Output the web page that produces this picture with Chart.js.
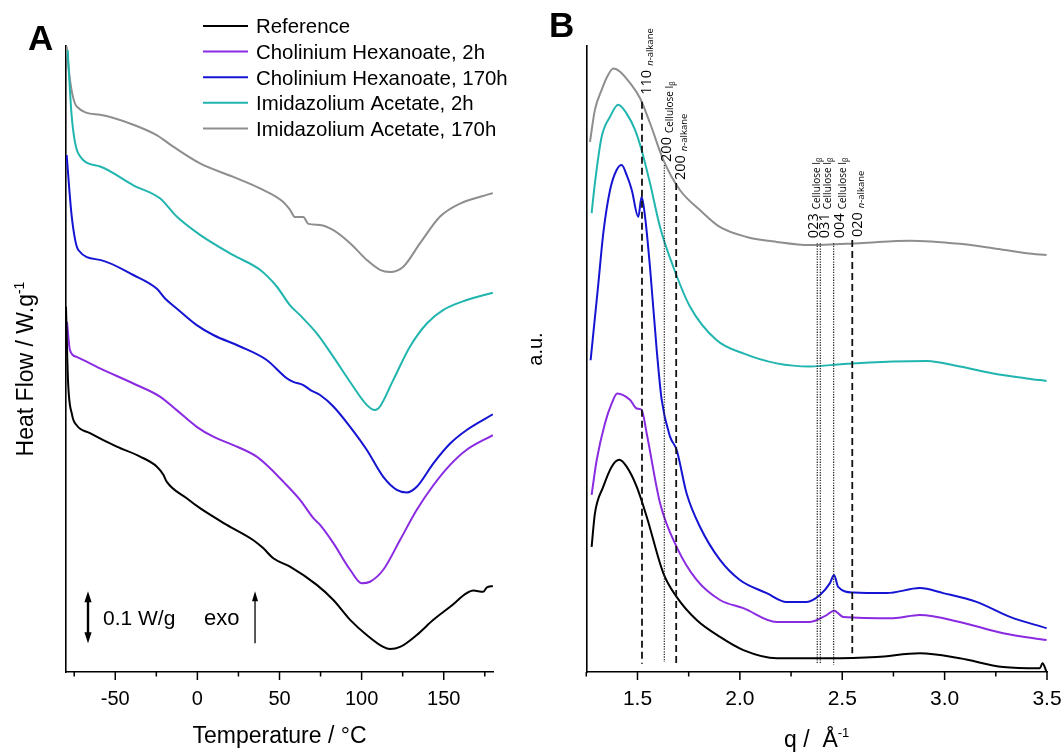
<!DOCTYPE html>
<html><head><meta charset="utf-8">
<script src="https://cdn.jsdelivr.net/npm/chart.js@4.4.1/dist/chart.umd.min.js"></script>
<style>
html,body{margin:0;padding:0;background:#fff;}
#wrap{position:relative;width:1061px;height:752px;overflow:hidden;background:#fff;}
canvas{position:absolute;top:0;}
#cA{left:0;width:530px;height:752px;}
#cB{left:530px;width:531px;height:752px;}
</style></head><body>
<div id="wrap"><canvas id="cA" width="530" height="752"></canvas><canvas id="cB" width="531" height="752"></canvas></div>
<script>
const FONT = '"Liberation Sans", Arial, Helvetica, sans-serif';
const LABEL_FONT = '"Open Sans", "Liberation Sans", Arial, sans-serif';

const seriesNames = ['Reference', 'Cholinium Hexanoate, 2h', 'Cholinium Hexanoate, 170h', 'Imidazolium Acetate, 2h', 'Imidazolium Acetate, 170h'];
const seriesColors = ['#000000', '#8a2be2', '#1414d2', '#20b5ae', '#8e8e8e'];

// ---------- Panel A: DSC (Temperature / °C vs Heat Flow / W.g-1, offset) ----------
const dscRefT  = [-80, -78.8, -76.3, -73.5, -65.4, -49.1, -34.9, -24.8, -20.7, -18.7, -6.5, 1.6, 17.9, 33.9, 40.2, 46.2, 56.4, 72.7, 82.8, 93.0, 103.1, 113.2, 117.3, 123.4, 133.6, 143.7, 153.9, 164.0, 168.0, 174.1, 176.2, 179.9];
const dscRefHF = [0.700, 0.560, 0.493, 0.473, 0.458, 0.432, 0.413, 0.394, 0.378, 0.365, 0.333, 0.314, 0.282, 0.253, 0.237, 0.218, 0.202, 0.167, 0.138, 0.100, 0.071, 0.048, 0.044, 0.048, 0.071, 0.100, 0.125, 0.151, 0.156, 0.154, 0.162, 0.165];

const dscCh2T  = [-79.4, -77.6, -73.5, -59.3, -39.0, -22.8, -12.6, -0.4, 9.7, 21.9, 36.1, 42.2, 52.3, 62.5, 70.6, 74.7, 82.8, 93.0, 100.1, 105.1, 113.2, 123.4, 133.6, 143.7, 153.9, 164.0, 179.9];
const dscCh2HF = [0.671, 0.617, 0.604, 0.582, 0.553, 0.528, 0.502, 0.470, 0.451, 0.435, 0.413, 0.397, 0.365, 0.330, 0.295, 0.282, 0.247, 0.196, 0.170, 0.173, 0.196, 0.253, 0.311, 0.358, 0.397, 0.426, 0.454];

const dscCh170T  = [-79.6, -76.5, -72.5, -59.3, -39.0, -24.8, -19.7, -12.6, -0.4, 9.7, 26.0, 42.2, 54.4, 58.4, 64.5, 68.6, 74.7, 82.8, 93.0, 103.1, 113.2, 121.4, 127.5, 133.6, 143.7, 153.9, 164.0, 179.9];
const dscCh170HF = [0.991, 0.873, 0.809, 0.790, 0.761, 0.735, 0.716, 0.697, 0.665, 0.646, 0.624, 0.598, 0.563, 0.556, 0.550, 0.541, 0.531, 0.509, 0.470, 0.426, 0.374, 0.349, 0.344, 0.355, 0.400, 0.438, 0.464, 0.494];

const dscIm2T  = [-79, -76.5, -72.5, -59.3, -39.0, -22.8, -12.6, 1.6, 21.9, 38.1, 48.3, 56.4, 62.5, 72.7, 82.8, 93.0, 103.1, 108.2, 111.2, 119.3, 129.5, 139.7, 149.8, 164.0, 179.9];
const dscIm2HF = [1.192, 1.064, 0.994, 0.969, 0.933, 0.908, 0.873, 0.838, 0.799, 0.771, 0.739, 0.703, 0.684, 0.649, 0.604, 0.556, 0.512, 0.502, 0.509, 0.560, 0.624, 0.668, 0.694, 0.713, 0.727];

const dscIm170T  = [-79.6, -77.6, -73.5, -59.3, -39.0, -24.8, -14.7, 1.6, 21.9, 38.1, 52.3, 56.4, 59.5, 64.5, 67.6, 74.7, 82.8, 93.0, 103.1, 111.2, 117.3, 125.4, 135.6, 147.8, 160.0, 179.9];
const dscIm170HF = [1.199, 1.135, 1.084, 1.068, 1.049, 1.029, 1.007, 0.975, 0.949, 0.927, 0.901, 0.886, 0.872, 0.872, 0.859, 0.857, 0.847, 0.822, 0.790, 0.771, 0.767, 0.777, 0.822, 0.873, 0.898, 0.918];

const tickValsA   = [-50, 0, 50, 100, 150];
const tickLabelsA = ['-50', '0', '50', '100', '150'];
const minorTicksA = [-75, -25, 25, 75, 125, 175];
const scaleBarT = -66.6, exoArrowT = 35.1;          // °C
const scaleBarFrom = 0.055, scaleBarTo = 0.155;     // W/g (0.1 W/g)

// ---------- Panel B: WAXS (q / Å-1 vs a.u.) ----------
const waxsRefQ = [1.276, 1.292, 1.333, 1.374, 1.411, 1.447, 1.496, 1.545, 1.626, 1.691, 1.789, 1.903, 2.017, 2.180, 2.424, 2.668, 2.879, 3.074, 3.286, 3.465, 3.478, 3.498];
const waxsRefI = [0.200, 0.253, 0.296, 0.328, 0.339, 0.328, 0.296, 0.248, 0.158, 0.120, 0.083, 0.056, 0.035, 0.022, 0.022, 0.024, 0.030, 0.022, 0.008, 0.006, 0.014, 0.000];

const waxsCh2Q = [1.276, 1.301, 1.341, 1.374, 1.401, 1.463, 1.496, 1.520, 1.545, 1.610, 1.691, 1.789, 1.903, 2.017, 2.180, 2.342, 2.424, 2.460, 2.505, 2.749, 2.879, 3.074, 3.286, 3.498];
const waxsCh2I = [0.283, 0.339, 0.397, 0.429, 0.445, 0.435, 0.421, 0.419, 0.381, 0.270, 0.200, 0.147, 0.115, 0.102, 0.080, 0.080, 0.091, 0.098, 0.088, 0.086, 0.091, 0.080, 0.062, 0.051];

const waxsCh170Q = [1.271, 1.309, 1.333, 1.366, 1.398, 1.423, 1.447, 1.472, 1.504, 1.520, 1.537, 1.561, 1.594, 1.618, 1.659, 1.691, 1.740, 1.805, 1.903, 2.000, 2.131, 2.228, 2.326, 2.391, 2.440, 2.460, 2.480, 2.554, 2.717, 2.879, 2.993, 3.156, 3.319, 3.498];
const waxsCh170I = [0.498, 0.621, 0.701, 0.770, 0.802, 0.810, 0.794, 0.770, 0.727, 0.759, 0.727, 0.647, 0.514, 0.435, 0.376, 0.355, 0.285, 0.232, 0.179, 0.147, 0.126, 0.112, 0.112, 0.123, 0.142, 0.155, 0.136, 0.127, 0.126, 0.134, 0.126, 0.112, 0.088, 0.070];

const waxsIm2Q = [1.276, 1.292, 1.325, 1.366, 1.406, 1.447, 1.488, 1.520, 1.561, 1.610, 1.675, 1.756, 1.887, 2.017, 2.180, 2.342, 2.505, 2.749, 2.912, 3.075, 3.237, 3.400, 3.498];
const waxsIm2I = [0.733, 0.781, 0.855, 0.887, 0.906, 0.892, 0.866, 0.834, 0.781, 0.711, 0.647, 0.584, 0.530, 0.509, 0.493, 0.488, 0.492, 0.496, 0.497, 0.488, 0.477, 0.469, 0.465];

const waxsIm170Q = [1.268, 1.292, 1.325, 1.357, 1.382, 1.415, 1.463, 1.512, 1.561, 1.626, 1.707, 1.805, 1.902, 2.033, 2.180, 2.342, 2.586, 2.830, 3.074, 3.237, 3.400, 3.498];
const waxsIm170I = [0.847, 0.898, 0.930, 0.954, 0.964, 0.959, 0.941, 0.917, 0.877, 0.818, 0.770, 0.738, 0.711, 0.695, 0.687, 0.682, 0.685, 0.689, 0.684, 0.677, 0.669, 0.666];

const tickValsB   = [1.5, 2.0, 2.5, 3.0, 3.5];
const tickLabelsB = ['1.5', '2.0', '2.5', '3.0', '3.5'];
const minorTicksB = [1.25, 1.75, 2.25, 2.75, 3.25];

// reflection markers
const refLineQ      = [1.522, 1.631, 1.689, 2.378, 2.393, 2.458, 2.549];
const refLineTop    = [0.911, 0.810, 0.781, 0.685, 0.685, 0.685, 0.690];
const refLineBottom = [0.013, 0.016, 0.014, 0.014, 0.014, 0.011, 0.030];
const refLineKind   = ['dash', 'dot', 'dash', 'dot', 'dot', 'dot', 'dash'];
const refLabelMain  = ['110', '200', '200', '023', '031', '004', '020'];
const refLabelSub   = ['n-alkane', 'Cellulose Iβ', 'n-alkane', 'Cellulose Iβ', 'Cellulose Iβ', 'Cellulose Iβ', 'n-alkane'];
// label layout (pixels): baseline offset from line, gap above line top
const refLabelDx  = [9, 6.5, 9, 0.6, 8.6, 10, 10];
const refLabelGap = [7, 3, 3, 5, 5, 5, 3];

// ---------- helpers ----------
const toXY = (xs, ys) => xs.map((v, i) => ({ x: v, y: ys[i] }));
function ds(i, xs, ys) {
  return { label: seriesNames[i], data: toXY(xs, ys), borderColor: seriesColors[i], borderWidth: 2,
           pointRadius: 0, fill: false, cubicInterpolationMode: 'monotone' };
}
function makeOptions(xmin, xmax, ymin, ymax, yWidth, padRight) {
  return {
    responsive: false, animation: false, events: [],
    layout: { padding: { top: 46, right: padRight, left: 0, bottom: 0 } },
    plugins: { legend: { display: false }, tooltip: { enabled: false } },
    scales: {
      x: { type: 'linear', min: xmin, max: xmax,
           ticks: { display: false }, grid: { display: false, drawTicks: false },
           border: { display: true, color: '#000', width: 1.6 },
           afterFit: s => { s.height = 80; s.paddingLeft = 0; s.paddingRight = 0; } },
      y: { type: 'linear', min: ymin, max: ymax,
           ticks: { display: false }, grid: { display: false, drawTicks: false },
           border: { display: true, color: '#000', width: 1.6 },
           afterFit: s => { s.width = yWidth; s.paddingTop = 0; s.paddingBottom = 0; } }
    }
  };
}
function drawTicks(ctx, chart, vals, labels, minors, fontSize) {
  const { chartArea: ca, scales: { x } } = chart;
  ctx.strokeStyle = '#000'; ctx.lineWidth = 1.5; ctx.setLineDash([]);
  ctx.beginPath();
  vals.forEach(v => { const p = x.getPixelForValue(v); ctx.moveTo(p, ca.bottom); ctx.lineTo(p, ca.bottom + 8); });
  minors.forEach(v => { const p = x.getPixelForValue(v); ctx.moveTo(p, ca.bottom); ctx.lineTo(p, ca.bottom + 4.5); });
  ctx.stroke();
  ctx.fillStyle = '#000'; ctx.font = fontSize + 'px ' + FONT; ctx.textAlign = 'center'; ctx.textBaseline = 'alphabetic';
  vals.forEach((v, i) => ctx.fillText(labels[i], x.getPixelForValue(v), 705));
}
function drawSupText(ctx, base, sup, size, supSize, rise, cx, baseline, rotated) {
  ctx.save();
  ctx.font = size + 'px ' + FONT;
  const wb = ctx.measureText(base).width;
  ctx.font = supSize + 'px ' + FONT;
  const ws = ctx.measureText(sup).width;
  const total = wb + ws;
  ctx.translate(rotated ? baseline : cx, rotated ? cx : baseline);
  if (rotated) ctx.rotate(-Math.PI / 2);
  ctx.fillStyle = '#000'; ctx.textAlign = 'left'; ctx.textBaseline = 'alphabetic';
  ctx.font = size + 'px ' + FONT;
  ctx.fillText(base, -total / 2, 0);
  ctx.font = supSize + 'px ' + FONT;
  ctx.fillText(sup, -total / 2 + wb, -rise);
  ctx.restore();
}

// ---------- Panel A plugin ----------
const panelAPlugin = {
  id: 'panelA',
  afterDraw(chart) {
    const { ctx, chartArea: ca, scales: { x, y } } = chart;
    ctx.save();
    drawTicks(ctx, chart, tickValsA, tickLabelsA, minorTicksA, 20);
    // axis titles
    ctx.font = '23px ' + FONT; ctx.textAlign = 'center'; ctx.fillStyle = '#000';
    ctx.fillText('Temperature / °C', (ca.left + ca.right) / 2, 743);
    drawSupText(ctx, 'Heat Flow / W.g', '-1', 23, 14, 9, 369, 33, true);
    // panel letter
    ctx.font = 'bold 35px ' + FONT; ctx.textAlign = 'left';
    ctx.fillText('A', 28, 50);
    // legend
    seriesNames.forEach((name, i) => {
      const ly = 26 + i * 25.6;
      ctx.strokeStyle = seriesColors[i]; ctx.lineWidth = 2;
      ctx.beginPath(); ctx.moveTo(203, ly); ctx.lineTo(248, ly); ctx.stroke();
      ctx.fillStyle = '#000'; ctx.font = '20.4px ' + FONT; ctx.textAlign = 'left';
      ctx.fillText(name, 256, ly + 7.3);
    });
    // 0.1 W/g scale bar (double arrow)
    const bx = x.getPixelForValue(scaleBarT);
    const yTop = y.getPixelForValue(scaleBarTo), yBot = y.getPixelForValue(scaleBarFrom);
    ctx.strokeStyle = '#000'; ctx.fillStyle = '#000'; ctx.lineWidth = 2.4;
    ctx.beginPath(); ctx.moveTo(bx, yTop + 8); ctx.lineTo(bx, yBot - 8); ctx.stroke();
    ctx.beginPath(); ctx.moveTo(bx, yTop); ctx.lineTo(bx - 3.6, yTop + 11); ctx.lineTo(bx + 3.6, yTop + 11); ctx.closePath(); ctx.fill();
    ctx.beginPath(); ctx.moveTo(bx, yBot); ctx.lineTo(bx - 3.6, yBot - 11); ctx.lineTo(bx + 3.6, yBot - 11); ctx.closePath(); ctx.fill();
    ctx.font = '21px ' + FONT; ctx.textAlign = 'left';
    ctx.fillText('0.1 W/g', 103, 625);
    ctx.font = '22px ' + FONT;
    ctx.fillText('exo', 204, 625);
    // exo arrow
    const ex = x.getPixelForValue(exoArrowT);
    ctx.lineWidth = 1.3;
    ctx.beginPath(); ctx.moveTo(ex, yBot); ctx.lineTo(ex, yTop + 8); ctx.stroke();
    ctx.beginPath(); ctx.moveTo(ex, yTop); ctx.lineTo(ex - 3, yTop + 10); ctx.lineTo(ex + 3, yTop + 10); ctx.closePath(); ctx.fill();
    ctx.restore();
  }
};

// ---------- Panel B plugin ----------
function drawRefLabel(ctx, px, yb, main, sub) {
  ctx.save();
  ctx.translate(px, yb);
  ctx.rotate(-Math.PI / 2);
  ctx.fillStyle = '#000'; ctx.textAlign = 'left'; ctx.textBaseline = 'alphabetic';
  ctx.font = '14.5px ' + LABEL_FONT;
  ctx.fillText(main, 0, 0);
  let u = ctx.measureText(main).width + 4;
  const v = 2;
  if (sub.startsWith('n-')) {
    ctx.font = 'italic 9.5px ' + LABEL_FONT;
    ctx.fillText('n', u, v); u += ctx.measureText('n').width;
    ctx.font = '9.5px ' + LABEL_FONT;
    ctx.fillText(sub.slice(1), u, v);
  } else {
    const head = sub.slice(0, -1), tail = sub.slice(-1);
    ctx.font = '10px ' + LABEL_FONT;
    ctx.fillText(head, u, v); u += ctx.measureText(head).width;
    ctx.font = '7px ' + LABEL_FONT;
    ctx.fillText(tail, u, v + 2);
  }
  ctx.restore();
}
const panelBPlugin = {
  id: 'panelB',
  afterDatasetsDraw(chart) {
    const { ctx, scales: { x, y } } = chart;
    ctx.save();
    refLineQ.forEach((q, i) => {
      const px = x.getPixelForValue(q);
      if (refLineKind[i] === 'dash') { ctx.setLineDash([7, 4]); ctx.lineWidth = 1.8; ctx.strokeStyle = '#111'; }
      else { ctx.setLineDash([1.3, 1.3]); ctx.lineWidth = 1.2; ctx.strokeStyle = '#222'; }
      ctx.beginPath(); ctx.moveTo(px, y.getPixelForValue(refLineTop[i])); ctx.lineTo(px, y.getPixelForValue(refLineBottom[i])); ctx.stroke();
    });
    ctx.setLineDash([]);
    refLineQ.forEach((q, i) => {
      const px = x.getPixelForValue(q) + refLabelDx[i];
      const yb = y.getPixelForValue(refLineTop[i]) - refLabelGap[i];
      drawRefLabel(ctx, px, yb, refLabelMain[i], refLabelSub[i]);
    });
    ctx.restore();
  },
  afterDraw(chart) {
    const { ctx, chartArea: ca } = chart;
    ctx.save();
    drawTicks(ctx, chart, tickValsB, tickLabelsB, minorTicksB, 21);
    drawSupText(ctx, 'q /  Å', '-1', 23, 13, 10, (ca.left + ca.right) / 2, 747, false);
    ctx.fillStyle = '#000';
    ctx.save();
    ctx.translate(12, 349); ctx.rotate(-Math.PI / 2);
    ctx.font = '20px ' + FONT; ctx.textAlign = 'center'; ctx.textBaseline = 'alphabetic';
    ctx.fillText('a.u.', 0, 0);
    ctx.restore();
    ctx.font = 'bold 35px ' + FONT; ctx.textAlign = 'left';
    ctx.fillText('B', 19, 36.7);
    ctx.restore();
  }
};

new Chart(document.getElementById('cA'), {
  type: 'line',
  data: { datasets: [
    ds(0, dscRefT, dscRefHF), ds(1, dscCh2T, dscCh2HF), ds(2, dscCh170T, dscCh170HF),
    ds(3, dscIm2T, dscIm2HF), ds(4, dscIm170T, dscIm170HF)
  ] },
  options: makeOptions(-80, 180, 0, 1.2, 66, 37),
  plugins: [panelAPlugin]
});

new Chart(document.getElementById('cB'), {
  type: 'line',
  data: { datasets: [
    ds(0, waxsRefQ, waxsRefI), ds(1, waxsCh2Q, waxsCh2I), ds(2, waxsCh170Q, waxsCh170I),
    ds(3, waxsIm2Q, waxsIm2I), ds(4, waxsIm170Q, waxsIm170I)
  ] },
  options: makeOptions(1.25, 3.5, 0, 1, 56.3, 14),
  plugins: [panelBPlugin]
});
</script></body></html>
